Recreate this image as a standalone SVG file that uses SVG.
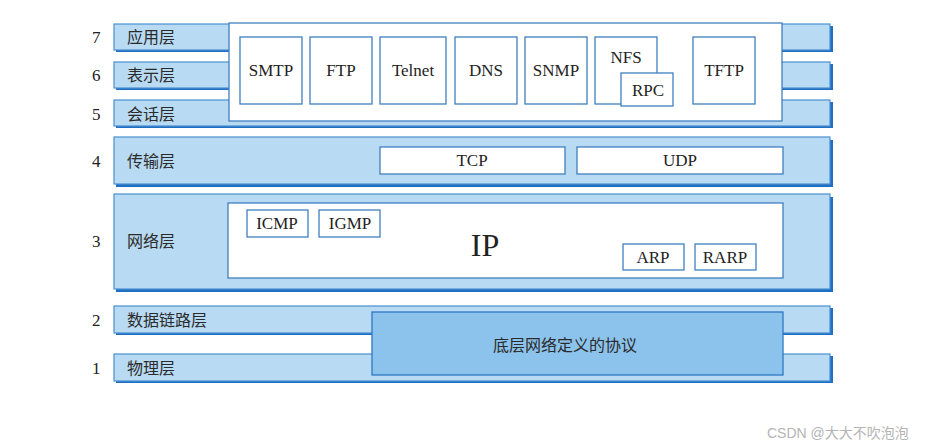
<svg xmlns="http://www.w3.org/2000/svg" width="943" height="448" viewBox="0 0 943 448">
<style>
.bar{fill:#b8daf3;stroke:#4a90d0;stroke-width:1.2}
.sh{fill:#1f6fc2}
.wb{fill:#fff;stroke:#3f7fbf;stroke-width:1.3}
.num{font-family:"Liberation Serif",serif;font-size:17px;fill:#222}
.lbl{font-family:"Noto Sans CJK SC",sans-serif;font-size:16px;fill:#2a2a2a}
.t{font-family:"Liberation Serif",serif;font-size:17px;fill:#222;text-anchor:middle}
.wm{font-family:"Liberation Sans","Noto Sans CJK SC",sans-serif;font-size:14px;fill:#b4b4b4}
</style>
<rect width="943" height="448" fill="#fff"/>
<g id="layer7"><rect class="sh" x="116" y="26" width="717" height="26"/><rect class="bar" x="114" y="24" width="716" height="26"/><text class="num" x="92" y="43">7</text><text class="lbl" x="127" y="43">应用层</text></g>
<g id="layer6"><rect class="sh" x="116" y="64" width="717" height="26"/><rect class="bar" x="114" y="62" width="716" height="26"/><text class="num" x="92" y="81">6</text><text class="lbl" x="127" y="81">表示层</text></g>
<g id="layer5"><rect class="sh" x="116" y="102" width="717" height="26"/><rect class="bar" x="114" y="100" width="716" height="26"/><text class="num" x="92" y="120">5</text><text class="lbl" x="127" y="120">会话层</text></g>
<g id="app">
<rect class="wb" x="229" y="23" width="553" height="98"/>
<rect class="wb" x="240" y="37" width="62" height="67"/><text class="t" x="271" y="76">SMTP</text>
<rect class="wb" x="310" y="37" width="62" height="67"/><text class="t" x="341" y="76">FTP</text>
<rect class="wb" x="380" y="37" width="66" height="67"/><text class="t" x="413" y="76">Telnet</text>
<rect class="wb" x="455" y="37" width="62" height="67"/><text class="t" x="486" y="76">DNS</text>
<rect class="wb" x="525" y="37" width="62" height="67"/><text class="t" x="556" y="76">SNMP</text>
<rect class="wb" x="595" y="37" width="62" height="67"/><text class="t" x="626" y="63">NFS</text>
<rect class="wb" x="621" y="73" width="52" height="33"/><text class="t" x="648" y="96">RPC</text>
<rect class="wb" x="693" y="37" width="62" height="67"/><text class="t" x="724" y="76">TFTP</text>
</g>
<g id="layer4"><rect class="sh" x="116" y="140" width="717" height="47"/><rect class="bar" x="114" y="137" width="716" height="47"/><text class="num" x="92" y="167">4</text><text class="lbl" x="127" y="167">传输层</text>
<rect class="wb" x="380" y="147" width="185" height="27"/><text class="t" x="472" y="166">TCP</text>
<rect class="wb" x="577" y="147" width="206" height="27"/><text class="t" x="680" y="166">UDP</text>
</g>
<g id="layer3"><rect class="sh" x="116" y="197" width="717" height="95"/><rect class="bar" x="114" y="194" width="716" height="95"/><text class="num" x="92" y="247">3</text><text class="lbl" x="127" y="247">网络层</text>
<rect class="wb" x="228" y="203" width="555" height="75"/>
<text x="485" y="256" style="font-family:'Liberation Serif',serif;font-size:32px;fill:#222" text-anchor="middle">IP</text>
<rect class="wb" x="247" y="210" width="61" height="27"/><text class="t" x="277" y="229">ICMP</text>
<rect class="wb" x="319" y="210" width="61" height="27"/><text class="t" x="350" y="229">IGMP</text>
<rect class="wb" x="623" y="244" width="61" height="26"/><text class="t" x="653" y="263">ARP</text>
<rect class="wb" x="695" y="244" width="61" height="26"/><text class="t" x="725" y="263">RARP</text>
</g>
<g id="layer2"><rect class="sh" x="116" y="308" width="717" height="27"/><rect class="bar" x="114" y="306" width="716" height="27"/><text class="num" x="92" y="326">2</text><text class="lbl" x="127" y="326">数据链路层</text></g>
<g id="layer1"><rect class="sh" x="116" y="356" width="717" height="27"/><rect class="bar" x="114" y="354" width="716" height="27"/><text class="num" x="92" y="374">1</text><text class="lbl" x="127" y="374">物理层</text></g>
<g id="lower"><rect x="372" y="312" width="411" height="63" fill="#8cc3ec" stroke="#2f78c4" stroke-width="1.3"/><text class="lbl" x="493" y="351">底层网络定义的协议</text></g>
<text class="wm" x="767" y="438">CSDN @大大不吹泡泡</text>
</svg>
